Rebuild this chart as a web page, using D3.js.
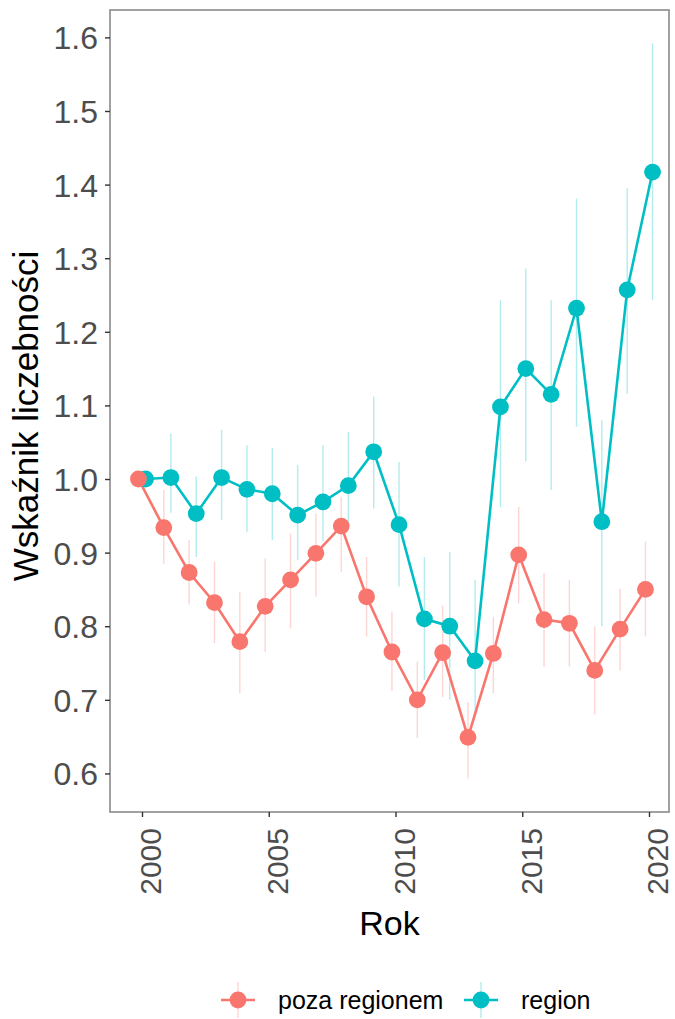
<!DOCTYPE html>
<html>
<head>
<meta charset="utf-8">
<script src="https://cdn.jsdelivr.net/npm/d3@7"></script>
<style>
	body { margin: 0; background: #fff; }
	text { font-family: "Liberation Sans", Arial, sans-serif; }
</style>
</head>
<body>
<div id="chart"></div>
<script>
var years = [2000, 2001, 2002, 2003, 2004, 2005, 2006, 2007, 2008, 2009, 2010, 2011, 2012, 2013, 2014, 2015, 2016, 2017, 2018, 2019, 2020]

// poza regionem
var pozaMean = [1.000, 0.934, 0.873, 0.832, 0.779, 0.827, 0.863, 0.899, 0.936, 0.840, 0.765, 0.700, 0.764, 0.649, 0.763, 0.897, 0.809, 0.804, 0.740, 0.796, 0.850]
var pozaLo = [1.000, 0.885, 0.830, 0.777, 0.709, 0.765, 0.797, 0.840, 0.874, 0.786, 0.712, 0.648, 0.704, 0.593, 0.709, 0.831, 0.745, 0.745, 0.680, 0.740, 0.786]
var pozaHi = [1.000, 0.985, 0.917, 0.888, 0.847, 0.892, 0.926, 0.953, 0.976, 0.894, 0.820, 0.752, 0.828, 0.697, 0.813, 0.962, 0.872, 0.863, 0.800, 0.851, 0.915]

// region
var regionMean = [1.000, 1.002, 0.953, 1.002, 0.986, 0.980, 0.951, 0.969, 0.991, 1.037, 0.938, 0.810, 0.800, 0.753, 1.098, 1.150, 1.115, 1.232, 0.942, 1.257, 1.417]
var regionLo = [1.000, 0.954, 0.894, 0.944, 0.928, 0.917, 0.890, 0.915, 0.935, 0.960, 0.854, 0.727, 0.700, 0.682, 0.962, 1.024, 0.985, 1.071, 0.800, 1.116, 1.243]
var regionHi = [1.000, 1.062, 1.003, 1.067, 1.046, 1.042, 1.019, 1.046, 1.064, 1.112, 1.023, 0.894, 0.901, 0.863, 1.243, 1.286, 1.243, 1.381, 1.080, 1.395, 1.592]

var seriesNames = ["poza regionem", "region"]
var seriesColors = ["#F8766D", "#00BFC4"]
var yTicks = [0.6, 0.7, 0.8, 0.9, 1.0, 1.1, 1.2, 1.3, 1.4, 1.5, 1.6]
var xTicks = [2000, 2005, 2010, 2015, 2020]

var W = 675, H = 1019
var margin = { top: 10, right: 6, bottom: 207, left: 110 }
var width = W - margin.left - margin.right
var height = H - margin.top - margin.bottom

var series = [
	{ name: seriesNames[0], color: seriesColors[0], dodge: -0.14, mean: pozaMean, lo: pozaLo, hi: pozaHi },
	{ name: seriesNames[1], color: seriesColors[1], dodge: 0.14, mean: regionMean, lo: regionLo, hi: regionHi }
]
series.forEach(function (s) {
	s.values = years.map(function (yr, i) {
		return { x: yr + s.dodge, y: s.mean[i], lo: s.lo[i], hi: s.hi[i] }
	})
})

var svg = d3.select("#chart").append("svg")
	.attr("width", W)
	.attr("height", H)

var g = svg.append("g")
	.attr("transform", "translate(" + margin.left + "," + margin.top + ")")

var x = d3.scaleLinear().domain([1998.738, 2020.789]).range([0, width])
var y = d3.scaleLinear().domain([0.5476, 1.6372]).range([height, 0])

// error bars
series.forEach(function (s) {
	g.append("g").selectAll("line")
		.data(s.values.filter(function (d) { return d.hi > d.lo }))
		.enter().append("line")
		.attr("x1", function (d) { return x(d.x) })
		.attr("x2", function (d) { return x(d.x) })
		.attr("y1", function (d) { return y(d.lo) })
		.attr("y2", function (d) { return y(d.hi) })
		.attr("stroke", s.color)
		.attr("stroke-opacity", 0.3)
		.attr("stroke-width", 1.4)
})

var line = d3.line()
	.x(function (d) { return x(d.x) })
	.y(function (d) { return y(d.y) })

series.forEach(function (s) {
	g.append("path")
		.datum(s.values)
		.attr("d", line)
		.attr("fill", "none")
		.attr("stroke", s.color)
		.attr("stroke-width", 2.6)
})

// teal first, red on top
series.slice().reverse().forEach(function (s) {
	g.append("g").selectAll("circle")
		.data(s.values)
		.enter().append("circle")
		.attr("cx", function (d) { return x(d.x) })
		.attr("cy", function (d) { return y(d.y) })
		.attr("r", 8.4)
		.attr("fill", s.color)
})

// panel border
g.append("rect")
	.attr("width", width)
	.attr("height", height)
	.attr("fill", "none")
	.attr("stroke", "#8a8a8a")
	.attr("stroke-width", 1.6)

// y axis
var yAxis = g.append("g")
	.call(d3.axisLeft(y).tickValues(yTicks).tickSize(5).tickPadding(7).tickFormat(d3.format(".1f")))
yAxis.select(".domain").remove()
yAxis.selectAll(".tick line").attr("stroke", "#333").attr("stroke-width", 1.4)
yAxis.selectAll(".tick text")
	.attr("fill", "#4d4d4d")
	.style("font-size", "32px")
	.attr("dy", "0.36em")

// x axis
var xAxis = g.append("g")
	.attr("transform", "translate(0," + height + ")")
	.call(d3.axisBottom(x).tickValues(xTicks).tickSize(5).tickFormat(d3.format("d")))
xAxis.select(".domain").remove()
xAxis.selectAll(".tick line").attr("stroke", "#333").attr("stroke-width", 1.4)
xAxis.selectAll(".tick text")
	.attr("fill", "#4d4d4d")
	.style("font-size", "30px")
	.attr("text-anchor", "end")
	.attr("dy", null)
	.attr("y", 0)
	.attr("transform", "translate(19,16) rotate(-90)")

// axis titles
svg.append("text")
	.attr("x", margin.left + width / 2)
	.attr("y", 935)
	.attr("text-anchor", "middle")
	.style("font-size", "34px")
	.attr("fill", "#000")
	.text("Rok")

svg.append("text")
	.attr("transform", "translate(38,416) rotate(-90)")
	.attr("text-anchor", "middle")
	.style("font-size", "35px")
	.attr("fill", "#000")
	.text("Wskaźnik liczebności")

// legend
var legend = svg.append("g")
	.attr("transform", "translate(0,1000)")
var keyX = [238, 481]
series.forEach(function (s, i) {
	var k = legend.append("g").attr("transform", "translate(" + keyX[i] + ",0)")
	k.append("line")
		.attr("x1", 0).attr("x2", 0).attr("y1", -18).attr("y2", 18)
		.attr("stroke", s.color).attr("stroke-opacity", 0.3).attr("stroke-width", 1.4)
	k.append("line")
		.attr("x1", -17).attr("x2", 17).attr("y1", 0).attr("y2", 0)
		.attr("stroke", s.color).attr("stroke-width", 2.6)
	k.append("circle")
		.attr("r", 8.4)
		.attr("fill", s.color)
	k.append("text")
		.attr("x", 40)
		.attr("y", 9)
		.style("font-size", "25px")
		.attr("fill", "#000")
		.text(s.name)
})
</script>
</body>
</html>
